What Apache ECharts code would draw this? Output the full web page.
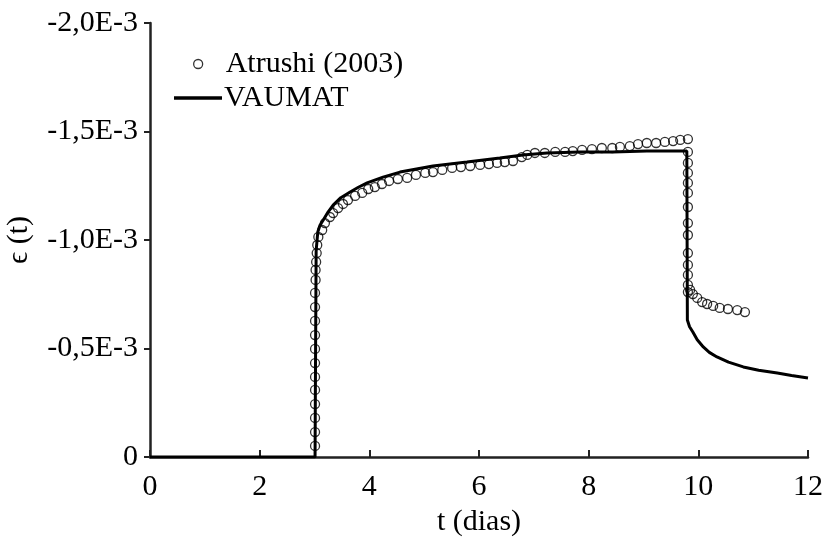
<!DOCTYPE html>
<html>
<head>
<meta charset="utf-8">
<script src="https://cdn.jsdelivr.net/npm/echarts@6/dist/echarts.min.js"></script>
<style>
html,body{margin:0;padding:0;background:#fff;}
#chart{width:826px;height:537px;}
</style>
</head>
<body>
<div id="chart"></div>
<script>
// Strain values are in units of 1E-3 (multiplied by 1e-3 when plotted)
var xTicks = [0, 2, 4, 6, 8, 10, 12];
var yTickLabels = ['0', '-0,5E-3', '-1,0E-3', '-1,5E-3', '-2,0E-3'];

// VAUMAT (model curve)
var vaumatT = [0, 3.01, 3.02, 3.03, 3.06, 3.10, 3.16, 3.25, 3.34, 3.48, 3.65, 3.80, 3.96, 4.25, 4.56, 5.16, 5.78, 6.38, 6.80, 7.24, 7.84, 8.44, 9.06, 9.79, 9.80, 9.84, 9.90, 9.98, 10.09, 10.20, 10.34, 10.55, 10.82, 11.10, 11.44, 11.70, 12.0];
var vaumatE = [0, 0, -0.50, -0.95, -1.037, -1.068, -1.092, -1.130, -1.161, -1.195, -1.221, -1.243, -1.263, -1.290, -1.313, -1.341, -1.359, -1.378, -1.392, -1.401, -1.406, -1.406, -1.410, -1.410, -0.631, -0.600, -0.576, -0.540, -0.507, -0.482, -0.461, -0.437, -0.415, -0.400, -0.387, -0.376, -0.364];

// Atrushi (2003) experimental points
var atrushiT = [3.01, 3.01, 3.01, 3.01, 3.01, 3.01, 3.01, 3.01, 3.01, 3.01, 3.01, 3.01, 3.02, 3.02, 3.03, 3.04, 3.05, 3.07,
  3.14, 3.19, 3.28, 3.34, 3.43, 3.52, 3.61, 3.74, 3.87, 3.98, 4.10, 4.23, 4.36, 4.52, 4.69, 4.85, 5.02, 5.16, 5.33, 5.51, 5.67, 5.84, 6.02, 6.18, 6.33,
  6.47, 6.62, 6.78, 6.88, 7.02, 7.20, 7.39, 7.57, 7.71, 7.88, 8.06, 8.24, 8.43, 8.57, 8.75, 8.90, 9.06, 9.23, 9.39, 9.54, 9.67, 9.81,
  9.81, 9.81, 9.81, 9.81, 9.81, 9.81, 9.81, 9.81, 9.81, 9.81, 9.81, 9.81, 9.81,
  9.85, 9.90, 9.98, 10.07, 10.16, 10.27, 10.39, 10.54, 10.71, 10.85];
var atrushiE = [-0.051, -0.115, -0.180, -0.244, -0.309, -0.369, -0.433, -0.498, -0.562, -0.627, -0.691, -0.756, -0.816, -0.862, -0.899, -0.940, -0.977, -1.014,
  -1.046, -1.078, -1.106, -1.124, -1.147, -1.166, -1.184, -1.203, -1.217, -1.235, -1.244, -1.258, -1.272, -1.281, -1.286, -1.300, -1.309, -1.313, -1.323, -1.332, -1.336, -1.341, -1.346, -1.350, -1.355,
  -1.359, -1.364, -1.382, -1.392, -1.401, -1.401, -1.406, -1.406, -1.410, -1.415, -1.419, -1.424, -1.424, -1.429, -1.433, -1.442, -1.447, -1.447, -1.452, -1.456, -1.461, -1.465,
  -1.406, -1.355, -1.309, -1.263, -1.217, -1.152, -1.078, -1.023, -0.940, -0.885, -0.839, -0.793, -0.760,
  -0.770, -0.751, -0.733, -0.714, -0.705, -0.696, -0.687, -0.682, -0.677, -0.668];

var FONT = '"Liberation Serif", "Times New Roman", serif';
var FS = 30;

function pairs(xs, ys) {
  return xs.map(function (x, i) { return [x, ys[i] * 1e-3]; });
}

var chart = echarts.init(document.getElementById('chart'), null, {renderer: 'canvas'});
chart.setOption({
  animation: false,
  backgroundColor: '#fff',
  grid: {left: 150, right: 18, top: 23, bottom: 80, containLabel: false, outerBoundsMode: 'none'},
  legend: [{
    data: [{name: 'Atrushi (2003)', icon: 'circle',
      itemStyle: {color: 'rgba(0,0,0,0)', borderColor: '#000', borderWidth: 1.3}}],
    orient: 'vertical',
    left: 193, top: 49, padding: 0,
    itemWidth: 9, itemHeight: 9,
    textStyle: {fontFamily: FONT, fontSize: FS, color: '#000', padding: [0, 0, 0, 18]}
  }, {
    data: [{name: 'VAUMAT', icon: 'rect', itemStyle: {color: '#000', borderWidth: 0}}],
    orient: 'vertical',
    left: 174, top: 83, padding: 0,
    itemWidth: 48, itemHeight: 3.5,
    textStyle: {fontFamily: FONT, fontSize: FS, color: '#000', padding: [0, 0, 0, -3]}
  }],
  xAxis: {
    type: 'value', min: 0, max: 12, interval: 2,
    name: 't (dias)', nameLocation: 'middle', nameGap: 47,
    nameTextStyle: {fontFamily: FONT, fontSize: FS, color: '#000'},
    axisLine: {show: true, onZero: false, lineStyle: {color: '#222', width: 2.5}},
    axisTick: {show: true, inside: true, length: 7, lineStyle: {color: '#222', width: 2}},
    axisLabel: {fontFamily: FONT, fontSize: FS, color: '#000', margin: 15,
      formatter: function (v) { return xTicks.indexOf(v) >= 0 ? String(v) : ''; }},
    splitLine: {show: false}
  },
  yAxis: {
    type: 'value', min: -0.002, max: 0, interval: 0.0005, inverse: true,
    name: 'ϵ (t)', nameLocation: 'middle', nameGap: 116, nameRotate: 90,
    nameTextStyle: {fontFamily: FONT, fontSize: FS, color: '#000'},
    axisLine: {show: true, onZero: false, lineStyle: {color: '#222', width: 2.5}},
    axisTick: {show: true, inside: false, length: 6, lineStyle: {color: '#222', width: 2}},
    axisLabel: {fontFamily: FONT, fontSize: FS, color: '#000', margin: 12,
      formatter: function (v) { return yTickLabels[Math.round(-v / 0.0005)] || ''; }},
    splitLine: {show: false}
  },
  series: [{
    name: 'VAUMAT',
    type: 'line',
    data: pairs(vaumatT, vaumatE),
    symbol: 'none',
    lineStyle: {color: '#000', width: 3},
    itemStyle: {color: '#000'},
    z: 2
  }, {
    name: 'Atrushi (2003)',
    type: 'scatter',
    data: pairs(atrushiT, atrushiE),
    symbol: 'circle',
    symbolSize: 9,
    itemStyle: {color: 'rgba(0,0,0,0)', borderColor: '#000', borderWidth: 1.3},
    z: 3
  }]
});
</script>
</body>
</html>
